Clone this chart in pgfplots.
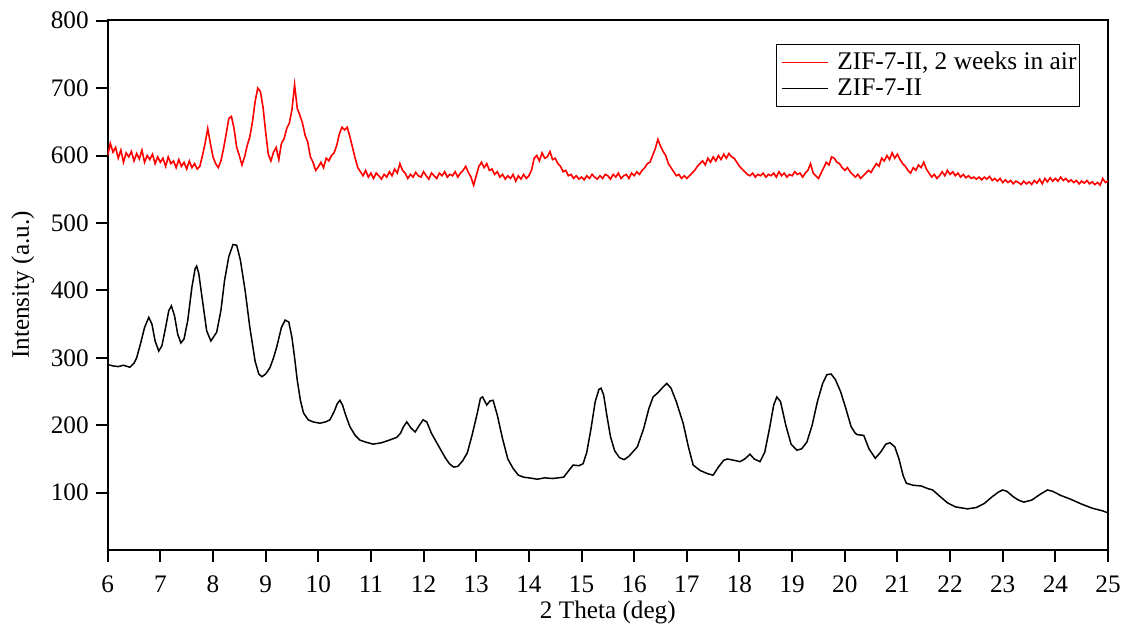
\documentclass[border=0pt]{standalone}
\usepackage{fontspec}
\setmainfont{Liberation Serif}
\usepackage{pgfplots}
\pgfplotsset{compat=1.18}
\usepackage{pgfplotstable}

\pgfplotstableread{
x y
6.00 600
6.05 618
6.10 605
6.15 612
6.20 596
6.25 608
6.30 590
6.35 604
6.40 598
6.45 606
6.50 592
6.55 603
6.60 595
6.65 608
6.70 590
6.75 600
6.80 594
6.85 602
6.90 588
6.95 598
7.00 590
7.05 596
7.10 584
7.15 598
7.20 588
7.25 592
7.30 582
7.35 594
7.40 584
7.45 590
7.50 580
7.55 592
7.60 582
7.65 588
7.70 580
7.75 584
7.80 600
7.85 618
7.90 640
7.95 618
8.00 598
8.05 588
8.10 582
8.15 592
8.20 610
8.25 632
8.30 655
8.35 658
8.40 640
8.45 612
8.50 600
8.55 586
8.60 598
8.65 615
8.70 628
8.75 650
8.80 680
8.85 700
8.90 695
8.95 672
9.00 635
9.05 602
9.10 592
9.15 605
9.20 612
9.25 594
9.30 618
9.35 625
9.40 640
9.45 648
9.50 668
9.55 705
9.60 670
9.65 660
9.70 648
9.75 630
9.80 620
9.85 598
9.90 590
9.95 578
10.00 583
10.05 590
10.10 582
10.15 596
10.20 592
10.25 600
10.30 604
10.35 615
10.40 632
10.45 642
10.50 638
10.55 642
10.60 628
10.65 612
10.70 596
10.75 582
10.80 576
10.85 570
10.90 578
10.95 568
11.00 574
11.05 566
11.10 574
11.15 570
11.20 565
11.25 572
11.30 568
11.35 576
11.40 570
11.45 580
11.50 574
11.55 588
11.60 578
11.65 574
11.70 566
11.75 572
11.80 568
11.85 575
11.90 570
11.95 568
12.00 576
12.05 570
12.10 565
12.15 574
12.20 570
12.25 566
12.30 574
12.35 570
12.40 576
12.45 568
12.50 572
12.55 570
12.60 576
12.65 568
12.70 574
12.75 578
12.80 584
12.85 575
12.90 568
12.95 556
13.00 570
13.05 584
13.10 590
13.15 582
13.20 588
13.25 578
13.30 580
13.35 572
13.40 576
13.45 568
13.50 572
13.55 565
13.60 570
13.65 566
13.70 572
13.75 562
13.80 570
13.85 565
13.90 572
13.95 566
14.00 570
14.05 578
14.10 596
14.15 600
14.20 592
14.25 604
14.30 596
14.35 598
14.40 606
14.45 594
14.50 596
14.55 588
14.60 584
14.65 576
14.70 578
14.75 570
14.80 572
14.85 566
14.90 570
14.95 565
15.00 568
15.05 564
15.10 570
15.15 566
15.20 572
15.25 568
15.30 565
15.35 570
15.40 566
15.45 572
15.50 570
15.55 565
15.60 572
15.65 568
15.70 574
15.75 566
15.80 570
15.85 572
15.90 566
15.95 574
16.00 570
16.05 576
16.10 572
16.15 578
16.20 582
16.25 588
16.30 590
16.35 600
16.40 610
16.45 624
16.50 614
16.55 606
16.60 600
16.65 588
16.70 582
16.75 576
16.80 570
16.85 572
16.90 566
16.95 570
17.00 566
17.05 570
17.10 574
17.15 578
17.20 584
17.25 588
17.30 592
17.35 586
17.40 596
17.45 590
17.50 598
17.55 592
17.60 600
17.65 594
17.70 602
17.75 596
17.80 603
17.85 598
17.90 596
17.95 590
18.00 584
18.05 580
18.10 576
18.15 572
18.20 570
18.25 574
18.30 568
18.35 572
18.40 570
18.45 574
18.50 568
18.55 572
18.60 570
18.65 574
18.70 568
18.75 576
18.80 570
18.85 574
18.90 568
18.95 572
19.00 570
19.05 576
19.10 572
19.15 574
19.20 568
19.25 574
19.30 578
19.35 588
19.40 574
19.45 570
19.50 566
19.55 574
19.60 582
19.65 590
19.70 586
19.75 598
19.80 596
19.85 590
19.90 588
19.95 582
20.00 578
20.05 582
20.10 576
20.15 572
20.20 568
20.25 572
20.30 566
20.35 570
20.40 574
20.45 578
20.50 575
20.55 582
20.60 588
20.65 584
20.70 596
20.75 592
20.80 600
20.85 594
20.90 604
20.95 596
21.00 602
21.05 594
21.10 588
21.15 584
21.20 578
21.25 574
21.30 582
21.35 578
21.40 586
21.45 582
21.50 590
21.55 580
21.60 574
21.65 568
21.70 572
21.75 566
21.80 570
21.85 576
21.90 570
21.95 578
22.00 572
22.05 576
22.10 570
22.15 574
22.20 568
22.25 572
22.30 567
22.35 570
22.40 566
22.45 568
22.50 565
22.55 568
22.60 564
22.65 568
22.70 565
22.75 569
22.80 563
22.85 566
22.90 562
22.95 566
23.00 560
23.05 564
23.10 560
23.15 563
23.20 558
23.25 562
23.30 560
23.35 557
23.40 562
23.45 558
23.50 561
23.55 557
23.60 563
23.65 559
23.70 565
23.75 558
23.80 566
23.85 561
23.90 567
23.95 562
24.00 566
24.05 562
24.10 568
24.15 563
24.20 566
24.25 561
24.30 564
24.35 560
24.40 563
24.45 558
24.50 562
24.55 559
24.60 563
24.65 558
24.70 561
24.75 557
24.80 560
24.85 556
24.90 566
24.95 560
25.00 562
}\redtable

\pgfplotstableread{
x y
6.00 290
6.10 288
6.20 287
6.30 289
6.42 286
6.50 292
6.55 300
6.62 320
6.70 345
6.78 360
6.84 350
6.90 325
6.97 310
7.03 318
7.10 345
7.16 370
7.21 377
7.27 362
7.33 335
7.39 322
7.45 328
7.52 355
7.60 405
7.66 432
7.69 436
7.73 425
7.80 385
7.88 340
7.96 325
8.07 338
8.15 370
8.22 415
8.30 450
8.38 468
8.45 467
8.52 445
8.61 400
8.70 345
8.80 295
8.87 276
8.93 272
9.00 276
9.08 285
9.15 300
9.21 316
9.30 345
9.37 356
9.44 353
9.50 330
9.55 300
9.60 267
9.66 237
9.72 218
9.81 208
9.90 205
10.03 203
10.14 205
10.22 208
10.30 220
10.36 232
10.41 237
10.46 230
10.52 215
10.60 198
10.70 185
10.79 178
10.90 175
11.04 172
11.20 174
11.35 178
11.49 182
11.56 188
11.62 198
11.68 205
11.76 196
11.84 190
11.92 200
11.99 208
12.06 205
12.15 188
12.25 174
12.33 163
12.41 152
12.49 143
12.57 138
12.65 139
12.74 147
12.83 159
12.92 185
13.02 218
13.08 240
13.12 242
13.20 230
13.26 236
13.32 237
13.40 215
13.50 180
13.60 150
13.70 136
13.80 126
13.90 123
14.00 122
14.16 120
14.30 122
14.45 121
14.66 123
14.75 132
14.84 141
14.95 140
15.03 143
15.10 160
15.18 195
15.26 235
15.33 253
15.37 255
15.42 245
15.48 215
15.55 183
15.63 162
15.72 152
15.81 149
15.90 154
16.06 168
16.18 195
16.28 225
16.36 242
16.46 249
16.54 256
16.62 262
16.70 255
16.80 235
16.93 203
17.03 168
17.12 141
17.25 133
17.40 128
17.50 126
17.60 138
17.70 148
17.77 150
17.90 148
18.01 146
18.10 150
18.20 157
18.28 150
18.39 146
18.48 160
18.57 195
18.65 230
18.71 242
18.78 235
18.88 200
18.98 172
19.09 163
19.18 165
19.28 175
19.38 200
19.48 235
19.58 262
19.66 275
19.74 276
19.82 268
19.92 250
20.02 225
20.12 198
20.20 188
20.24 186
20.36 185
20.46 165
20.58 151
20.68 160
20.78 172
20.86 174
20.95 168
21.03 150
21.11 125
21.17 114
21.30 111
21.45 110
21.58 106
21.67 104
21.80 95
21.95 85
22.10 79
22.33 76
22.50 78
22.65 84
22.80 94
22.92 101
23.00 104
23.08 102
23.20 94
23.30 89
23.40 86
23.55 89
23.70 97
23.85 104
23.95 102
24.10 96
24.30 90
24.50 83
24.70 77
24.90 73
25.00 70
}\blacktable

\begin{document}
\begin{tikzpicture}
\useasboundingbox (-53.85pt,-40pt) rectangle (507.15pt,275pt);
\begin{axis}[
  at={(0,0)}, anchor=south west,
  scale only axis,
  width=500.15pt, height=265pt,
  xmin=6, xmax=25, ymin=15, ymax=801,
  xtick={6,7,...,25},
  ytick={100,200,...,800},
  tick align=outside,
  xtick pos=bottom, ytick pos=left,
  major tick length=6pt,
  axis line style={line width=1pt},
  every tick/.style={line width=1pt, black},
  /pgf/number format/assume math mode=true,
  tick label style={font=\fontsize{12.6}{14}\selectfont},
  xticklabel style={yshift=-3.5pt},
  label style={font=\fontsize{12.6}{14}\selectfont},
  xlabel={2 Theta (deg)},
  ylabel={Intensity (a.u.)},
  xlabel style={at={(axis description cs:0.5,-0.118)}, anchor=center},
  ylabel style={at={(axis description cs:-0.0849,0.5)}, anchor=center},
  legend style={at={(rel axis cs:0.972,0.955)}, anchor=north east,
    draw=black, line width=0.5pt, font=\fontsize{12.7}{14}\selectfont,
    inner xsep=0.5pt, inner ysep=2pt, row sep=-1pt,
    nodes={inner xsep=1pt}},
  legend cell align=left,
  legend image code/.code={\path (-1.5pt,0pt) (26.5pt,0pt);\draw[#1, line width=0.7pt] (0pt,0pt) -- (23pt,0pt);},
]
\addplot[red, line width=0.8pt] table[x=x, y=y] {\redtable};
\addlegendentry{ZIF-7-II, 2 weeks in air}
\addplot[black, line width=0.75pt] table[x=x, y=y] {\blacktable};
\addlegendentry{ZIF-7-II}
\end{axis}
\end{tikzpicture}
\end{document}
